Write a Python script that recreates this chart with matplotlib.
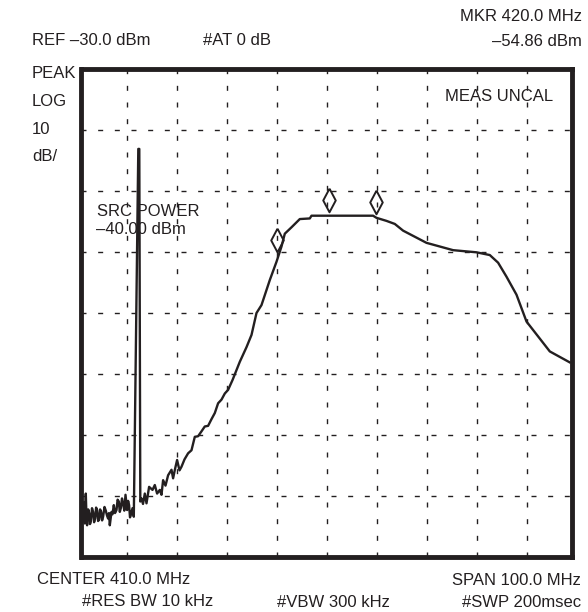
import matplotlib
matplotlib.use('Agg')
import matplotlib.pyplot as plt
import numpy as np

# trace (MHz, dBm)
freq_mhz = [
    361.36, 361.52, 361.67, 361.86, 362.0, 362.12, 362.34, 362.52, 362.7,
    362.86, 363.1, 363.32, 363.52, 363.72, 363.92, 364.12, 364.32, 364.52,
    364.72, 364.92, 365.12, 365.32, 365.6, 365.86, 366.1, 366.32, 366.5,
    366.66, 367.0, 367.2, 367.46, 367.7, 368.0, 368.22, 368.46, 368.66,
    368.86, 369.1, 369.32, 369.56, 369.8, 370.12, 370.32, 370.52, 370.7,
    370.86, 371.2, 371.46,
    372.36, 372.56, 372.76,
    373.0, 373.3, 373.66, 374.0, 374.52, 375.2, 375.66, 376.12, 376.66, 377.0,
    377.32, 377.8, 378.32, 379.0, 379.32, 379.7, 380.12, 380.6, 381.0,
    381.6, 382.32, 383.0, 383.66, 384.32,
    385.0, 385.66, 386.32, 387.0, 387.66, 388.32, 389.0, 389.66, 390.32,
    391.2, 392.66, 394.0, 395.0, 396.0, 397.0, 398.66, 400.0, 401.0,
    401.66, 403.0, 404.66, 406.66,
    407.0, 419.32, 420.0, 422.0, 423.66, 425.32, 427.66, 430.0, 432.66,
    435.32, 440.0, 442.66, 444.32, 446.0, 448.0, 450.0, 454.66, 458.66,
]
level_dbm = [
    -104.1, -101.0, -104.5, -99.6, -103.6, -104.8, -102.2, -102.8, -104.6,
    -104.2, -102.0, -102.6, -104.3, -103.7, -101.9, -102.3, -104.1, -103.9,
    -102.2, -102.6, -104.0, -103.4, -101.8, -102.4, -103.2, -103.7, -102.8,
    -104.8, -102.6, -103.0, -101.5, -102.8, -102.3, -100.6, -100.9, -102.6,
    -102.0, -100.4, -101.2, -102.4, -99.8, -102.3, -100.8, -101.5, -103.5,
    -103.1, -102.0, -103.4,
    -43.1, -43.1, -100.9,
    -100.4, -101.3, -99.6, -101.2, -98.5, -99.0, -98.2, -99.6, -99.0, -99.8,
    -97.4, -98.3, -96.6, -95.7, -97.1, -95.6, -94.1, -95.8, -95.2,
    -94.0, -93.0, -92.5, -90.3, -90.2,
    -89.4, -88.6, -88.5, -87.4, -86.4, -84.8, -84.2, -83.2, -82.6,
    -81.0, -78.0, -75.6, -73.6, -70.0, -68.7, -64.6, -61.6, -59.1,
    -57.0, -55.95, -54.6, -54.5,
    -54.05, -54.05, -54.4, -54.9, -55.4, -56.5, -57.5, -58.5, -59.1,
    -59.7, -60.05, -60.5, -61.75, -64.05, -67.0, -71.4, -76.3, -78.1,
]

marker_freq = [400.0, 410.5, 419.9]
marker_level = [-58.1, -51.4, -51.85]

grid_freq = [370, 380, 390, 400, 410, 420, 430, 440, 450]
grid_level = [-40, -50, -60, -70, -80, -90, -100]

ink = '#231f20'
plt.rcParams['font.family'] = ['Liberation Sans', 'DejaVu Sans']

W, H = 588, 612
fig = plt.figure(figsize=(W / 100, H / 100), dpi=100)


def px(x, y):
    # pixel position (from top-left) -> figure fraction
    return x / W, 1 - y / H


left, right, top, bottom = 81.5, 571.5, 69, 557
ax = fig.add_axes([left / W, 1 - bottom / H, (right - left) / W,
                   (bottom - top) / H])
ax.set_xlim(361.0, 459.0)
ax.set_ylim(-110, -30)

for f in grid_freq:
    ax.axvline(f, color=ink, lw=1.0, linestyle=(0, (3.6, 8.4)), zorder=1)
for lv in grid_level:
    ax.axhline(lv, color=ink, lw=1.0, linestyle=(0, (3.6, 8.4)), zorder=1)

ax.plot(freq_mhz, level_dbm, color=ink, lw=1.7, zorder=3)

# tall narrow diamond, like the analyzer's marker glyph
diamond = [(0, 1), (0.53, 0), (0, -1), (-0.53, 0), (0, 1)]
ax.plot(marker_freq, marker_level, linestyle='none', marker=diamond,
        markersize=17, markerfacecolor='none', markeredgecolor=ink,
        markeredgewidth=1.4, zorder=4)

ax.set_xticks([])
ax.set_yticks([])
for sp in ax.spines.values():
    sp.set_linewidth(3.5)
    sp.set_color(ink)
ax.patch.set_alpha(0)

fs = 12
txt = dict(color=ink, fontsize=fs, va='center')
fig.text(*px(31.7, 40.7), 'REF –30.0 dBm', ha='left', **txt)
fig.text(*px(203, 40.7), '#AT 0 dB', ha='left', **txt)
fig.text(*px(581.7, 16.7), 'MKR 420.0 MHz', ha='right', **txt)
fig.text(*px(581.7, 41.7), '–54.86 dBm', ha='right', **txt)
for lbl, yy in [('PEAK', 73.3), ('LOG', 101.7), ('10', 130), ('dB/', 156.7)]:
    fig.text(*px(32, yy), lbl, ha='left', **txt)
fig.text(*px(445, 96.7), 'MEAS UNCAL', ha='left', **txt)
fig.text(*px(96.7, 211), 'SRC POWER', ha='left', **txt)
fig.text(*px(96, 229.5), '–40.00 dBm', ha='left', **txt)
fig.text(*px(37.3, 579.3), 'CENTER 410.0 MHz', ha='left', **txt)
fig.text(*px(81.7, 601.7), '#RES BW 10 kHz', ha='left', **txt)
fig.text(*px(276.7, 602.7), '#VBW 300 kHz', ha='left', **txt)
fig.text(*px(581.3, 580.7), 'SPAN 100.0 MHz', ha='right', **txt)
fig.text(*px(581.3, 602.7), '#SWP 200msec', ha='right', **txt)

fig.savefig('out.png', dpi=100, facecolor='white')
